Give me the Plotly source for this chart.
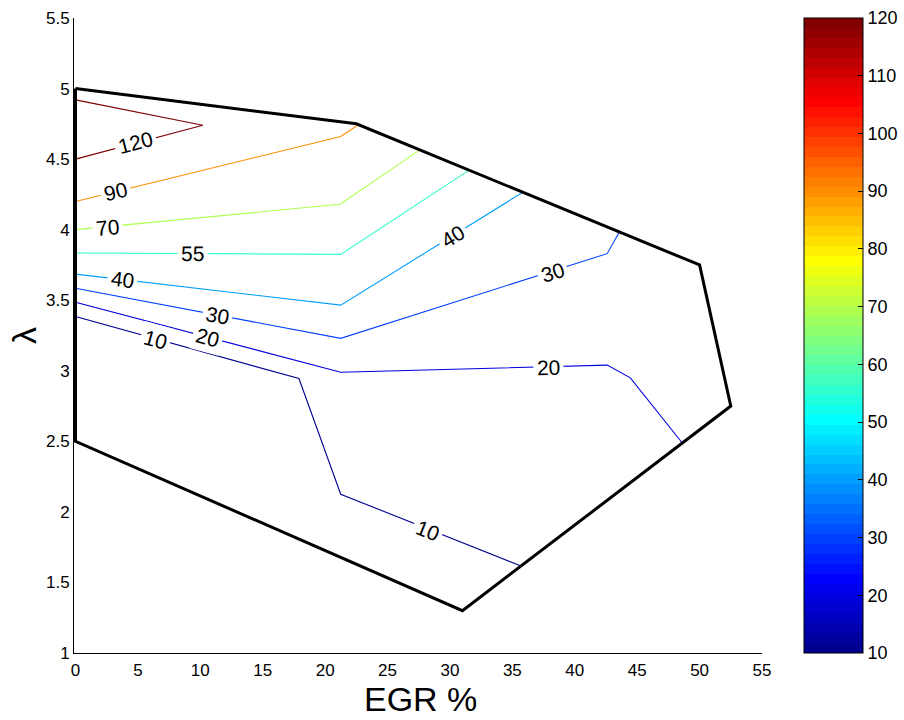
import math
import plotly.graph_objects as go

# ---------------- data ----------------
# operating-range boundary (EGR %, lambda)
boundary_x = [0, 22.5, 50, 52.5, 31, 0, 0]
boundary_y = [5.0, 4.75, 3.75, 2.75, 1.3, 2.5, 5.0]

# contour levels and their polylines
levels = [120, 90, 70, 55, 40, 30, 20, 10]
c120_x = [0, 10.2, 0];            c120_y = [4.92, 4.74, 4.5]
c90_x = [0, 21.25, 22.6];         c90_y = [4.2, 4.66, 4.74]
c70_x = [0, 21.2, 27.5];          c70_y = [4.0, 4.18, 4.56]
c55_x = [0, 21.25, 31.5];         c55_y = [3.835, 3.825, 4.42]
c40_x = [0, 21.25, 35.84];        c40_y = [3.685, 3.465, 4.265]
c30_x = [0, 21.25, 42.6, 43.55];  c30_y = [3.585, 3.23, 3.83, 3.98]
c20_x = [0, 21.25, 42.6, 44.45, 48.6]; c20_y = [3.485, 2.99, 3.04, 2.95, 2.49]
c10_x = [0, 17.9, 21.25, 35.6];   c10_y = [3.385, 2.945, 2.125, 1.62]
contour_x = {120: c120_x, 90: c90_x, 70: c70_x, 55: c55_x, 40: c40_x, 30: c30_x, 20: c20_x, 10: c10_x}
contour_y = {120: c120_y, 90: c90_y, 70: c70_y, 55: c55_y, 40: c40_y, 30: c30_y, 20: c20_y, 10: c10_y}

# inline contour labels
label_level = [120, 90, 70, 55, 40, 30, 20, 10, 40, 30, 20, 10]
label_x = [4.8, 3.2, 2.6, 9.4, 3.8, 11.4, 10.6, 6.4, 30.2, 38.2, 37.9, 28.2]
label_y = [4.615, 4.27, 4.015, 3.83, 3.65, 3.395, 3.235, 3.225, 3.955, 3.70, 3.02, 1.865]

cbar_ticks = [10, 20, 30, 40, 50, 60, 70, 80, 90, 100, 110, 120]
x_ticks = [0, 5, 10, 15, 20, 25, 30, 35, 40, 45, 50, 55]
y_ticks = [1, 1.5, 2, 2.5, 3, 3.5, 4, 4.5, 5, 5.5]
x_title = "EGR %"
y_title = "λ"
cmin, cmax = 10, 120

# ---------------- MATLAB jet(64) ----------------
def matlab_jet(m=64):
    n = math.ceil(m / 4)
    u = [i / n for i in range(1, n + 1)] + [1.0] * (n - 1) + [i / n for i in range(n, 0, -1)]
    g = [math.ceil(n / 2) - (1 if m % 4 == 1 else 0) + i for i in range(1, len(u) + 1)]
    r = [v + n for v in g]
    b = [v - n for v in g]
    g = [v for v in g if v <= m]
    r = [v for v in r if v <= m]
    b = [v for v in b if v >= 1]
    J = [[0.0, 0.0, 0.0] for _ in range(m)]
    for k, idx in enumerate(r):
        J[idx - 1][0] = u[k]
    for k, idx in enumerate(g):
        J[idx - 1][1] = u[k]
    ub = u[len(u) - len(b):]
    for k, idx in enumerate(b):
        J[idx - 1][2] = ub[k]
    return J

JET = matlab_jet(64)

def rgb(c):
    return "rgb(%d,%d,%d)" % tuple(round(255 * v) for v in c)

def level_color(v):
    idx = int((v - cmin) / (cmax - cmin) * 64)
    idx = max(0, min(63, idx))
    return rgb(JET[idx])

colorscale = []
for i, c in enumerate(JET):
    colorscale.append([i / 64, rgb(c)])
    colorscale.append([(i + 1) / 64, rgb(c)])

# ---------------- layout geometry ----------------
W, H = 904, 720
ml, mr, mt, mb = 74, 142, 18, 67
xr = [-0.12, 55]
yr = [1, 5.5]
PW, PH = W - ml - mr, H - mt - mb
sx = PW / (xr[1] - xr[0])
sy = PH / (yr[1] - yr[0])
FONT = "Liberation Sans, Arial"

fig = go.Figure()

for lv in levels:
    fig.add_trace(go.Scatter(x=contour_x[lv], y=contour_y[lv], mode="lines",
                             line=dict(color=level_color(lv), width=1.1),
                             hoverinfo="skip", showlegend=False))

fig.add_trace(go.Scatter(x=boundary_x, y=boundary_y, mode="lines",
                         line=dict(color="black", width=3),
                         hoverinfo="skip", showlegend=False))

# colorbar carrier
fig.add_trace(go.Scatter(x=[None], y=[None], mode="markers",
                         marker=dict(color=[cmin], cmin=cmin, cmax=cmax, colorscale=colorscale,
                                     showscale=True,
                                     colorbar=dict(x=(804 - ml) / PW, xanchor="left",
                                                   y=0, yanchor="bottom", len=1, lenmode="fraction",
                                                   thickness=59, xpad=0, ypad=0,
                                                   outlinecolor="black", outlinewidth=1,
                                                   tickvals=cbar_ticks, ticks="inside", ticklen=5,
                                                   tickcolor="black", tickwidth=1,
                                                   tickfont=dict(size=18, color="black", family=FONT))),
                         hoverinfo="skip", showlegend=False))

# label angles from the nearest contour segment (in pixel space)
def seg_angle(lv, px, py):
    xs, ys = contour_x[lv], contour_y[lv]
    best = None
    for i in range(len(xs) - 1):
        ax, ay = xs[i] * sx, -ys[i] * sy
        bx, by = xs[i + 1] * sx, -ys[i + 1] * sy
        qx, qy = px * sx, -py * sy
        dx, dy = bx - ax, by - ay
        t = max(0, min(1, ((qx - ax) * dx + (qy - ay) * dy) / (dx * dx + dy * dy)))
        d = math.hypot(ax + t * dx - qx, ay + t * dy - qy)
        if best is None or d < best[0]:
            best = (d, dx, dy)
    ang = math.degrees(math.atan2(best[2], best[1]))
    if ang > 90:
        ang -= 180
    if ang < -90:
        ang += 180
    return ang

for lv, lx, ly in zip(label_level, label_x, label_y):
    fig.add_annotation(x=lx, y=ly, text=str(lv), showarrow=False,
                       textangle=seg_angle(lv, lx, ly),
                       font=dict(size=21, color="black", family=FONT),
                       bgcolor="white", borderpad=3)

# axis titles placed in paper coordinates
fig.add_annotation(xref="paper", yref="paper", x=(420 - ml) / PW, y=(mt + PH - 699) / PH,
                   text=x_title, showarrow=False, xanchor="center", yanchor="middle",
                   font=dict(size=34, color="black", family=FONT))
fig.add_annotation(xref="paper", yref="paper", x=(24 - ml) / PW, y=(mt + PH - 336) / PH,
                   text=y_title, showarrow=False, xanchor="center", yanchor="middle",
                   textangle=-90, font=dict(size=34, color="black", family=FONT))

axis_font = dict(size=17, color="black", family=FONT)
fig.update_layout(
    width=W, height=H,
    margin=dict(l=ml, r=mr, t=mt, b=mb, autoexpand=False),
    paper_bgcolor="white", plot_bgcolor="white",
    xaxis=dict(range=xr, tickvals=x_ticks, showgrid=False, zeroline=False,
               showline=True, linecolor="black", linewidth=1, ticks="",
               tickfont=axis_font, ticklabelstandoff=2),
    yaxis=dict(range=yr, tickvals=y_ticks, showgrid=False, zeroline=False,
               showline=True, linecolor="black", linewidth=1, ticks="",
               tickfont=axis_font),
    showlegend=False,
)

fig.write_html("out.html")
